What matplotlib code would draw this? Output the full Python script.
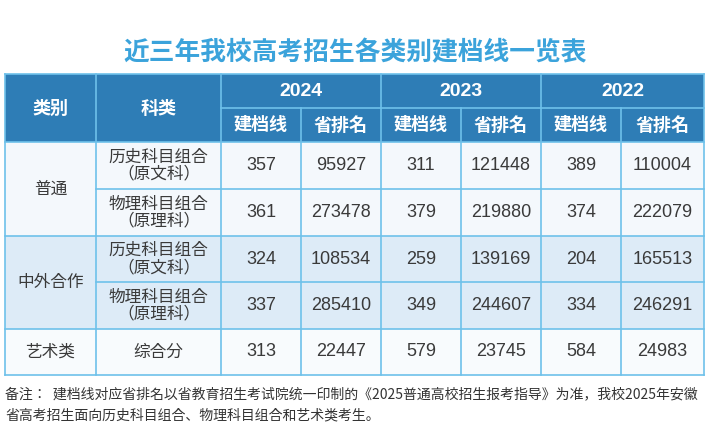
import matplotlib
matplotlib.use("Agg")
import matplotlib.pyplot as plt
from matplotlib.patches import Rectangle
from matplotlib import font_manager as fm

cjk = None
for f in fm.findSystemFonts():
    if 'NotoSansCJK' in f.replace(' ', '') or 'NotoSansSC' in f or 'CJK' in f:
        fm.fontManager.addfont(f) if f.lower().endswith(('.ttf', '.otf')) else None
        cjk = f
names = [fe.name for fe in fm.fontManager.ttflist if 'CJK' in fe.name]
fam = 'Noto Sans CJK SC' if 'Noto Sans CJK SC' in names else (names[0] if names else 'DejaVu Sans')
plt.rcParams['font.family'] = [fam, 'DejaVu Sans']

title = "近三年我校高考招生各类别建档线一览表"
years = ["2024", "2023", "2022"]
sub_headers = ["建档线", "省排名"]
categories = ["普通", "中外合作", "艺术类"]
subjects = ["历史科目组合\n（原文科）", "物理科目组合\n（原理科）",
            "历史科目组合\n（原文科）", "物理科目组合\n（原理科）", "综合分"]
line_2024 = [357, 361, 324, 337, 313]
rank_2024 = [95927, 273478, 108534, 285410, 22447]
line_2023 = [311, 379, 259, 349, 579]
rank_2023 = [121448, 219880, 139169, 244607, 23745]
line_2022 = [389, 374, 204, 334, 584]
rank_2022 = [110004, 222079, 165513, 246291, 24983]
note = ("备注：  建档线对应省排名以省教育招生考试院统一印制的《2025普通高校招生报考指导》为准，我校2025年安徽\n"
        "省高考招生面向历史科目组合、物理科目组合和艺术类考生。")

fig = plt.figure(figsize=(7.11, 4.46), dpi=100)
ax = fig.add_axes([0, 0, 1, 1])
ax.set_xlim(0, 711); ax.set_ylim(446, 0); ax.axis('off')

hdr = '#2E7DB6'; grid = '#6EC1EA'; txt = '#3a3a3a'
xs = [5, 96, 221, 301, 381, 461, 541, 621, 704]
ys = [142, 189, 236, 282, 329, 375]
ytop, ymid = 74, 108

ax.text(355, 53, title, ha='center', va='center', fontsize=18.5, color='#3BA3DB', fontweight='bold')
ax.add_patch(Rectangle((xs[0], ytop), xs[-1]-xs[0], ys[0]-ytop, color=hdr, lw=0))
row_bg = ['#F4F8FC', '#F4F8FC', '#DDEBF7', '#DDEBF7', '#F8FBFD']
for i in range(5):
    ax.add_patch(Rectangle((xs[0], ys[i]), xs[-1]-xs[0], ys[i+1]-ys[i], color=row_bg[i], lw=0))

lw = 1.2
for x in xs:
    ax.plot([x, x], [ytop, ys[-1]] if x in (xs[0], xs[1], xs[2], xs[4], xs[6], xs[-1]) else [ymid, ys[-1]], color=grid, lw=lw)
ax.plot([xs[2], xs[-1]], [ymid, ymid], color=grid, lw=lw)
ax.plot([xs[0], xs[-1]], [ytop, ytop], color=grid, lw=lw)
for j, y in enumerate(ys):
    if j in (1, 3):
        ax.plot([xs[1], xs[-1]], [y, y], color=grid, lw=lw)
    else:
        ax.plot([xs[0], xs[-1]], [y, y], color=grid, lw=lw)

ax.text((xs[0]+xs[1])/2, (ytop+ys[0])/2, "类别", ha='center', va='center', color='white', fontsize=13, fontweight='bold')
ax.text((xs[1]+xs[2])/2, (ytop+ys[0])/2, "科类", ha='center', va='center', color='white', fontsize=13, fontweight='bold')
for k, yr in enumerate(years):
    x0 = xs[2+2*k]; x1 = xs[4+2*k]
    ax.text((x0+x1)/2, (ytop+ymid)/2, yr, ha='center', va='center', color='white', fontsize=14, fontweight='bold', family='Liberation Sans')
    for m, sh in enumerate(sub_headers):
        ax.text((xs[2+2*k+m]+xs[3+2*k+m])/2, (ymid+ys[0])/2, sh, ha='center', va='center', color='white', fontsize=13, fontweight='bold')

cat_spans = [(0, 2), (2, 4), (4, 5)]
for c, (a, b) in zip(categories, cat_spans):
    ax.text((xs[0]+xs[1])/2, (ys[a]+ys[b])/2, c, ha='center', va='center', color=txt, fontsize=12)
cols = [line_2024, rank_2024, line_2023, rank_2023, line_2022, rank_2022]
for i in range(5):
    yc = (ys[i]+ys[i+1])/2
    ax.text((xs[1]+xs[2])/2, yc, subjects[i], ha='center', va='center', color=txt, fontsize=12, linespacing=1.0)
    for k, col in enumerate(cols):
        ax.text((xs[2+k]+xs[3+k])/2, yc, str(col[i]), ha='center', va='center', color=txt, fontsize=13, family='Liberation Sans')

ax.text(5, 405, note, ha='left', va='center', color='#333333', fontsize=10, linespacing=1.6)
fig.savefig("out.png", dpi=100)
